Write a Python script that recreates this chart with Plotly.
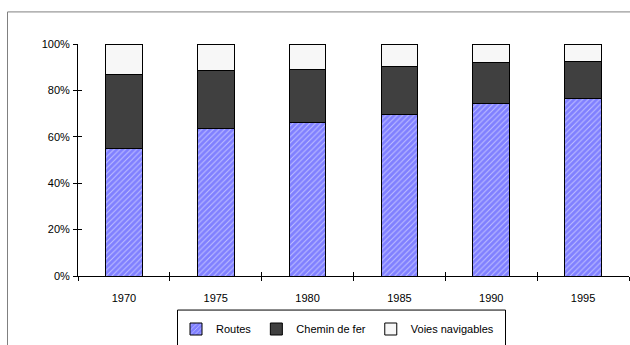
import plotly.graph_objects as go

# Répartition modale du transport de marchandises (parts en %)
annees = ["1970", "1975", "1980", "1985", "1990", "1995"]
routes = [55, 63.5, 66, 69.5, 74.5, 76.5]
chemin_de_fer = [32, 25, 23, 21, 17.5, 16]
voies_navigables = [13, 11.5, 11, 9.5, 8, 7.5]

W, H = 630, 345
L, R, T, B = 78, 1, 44, 66
pw, ph = W - L - R, H - T - B


def px_x(x):
    return (x - L) / pw


def px_y(y):
    return (H - B - y) / ph


font = dict(family="Liberation Sans, Arial, sans-serif", size=11, color="black")
line = dict(color="black", width=1)

fig = go.Figure()
fig.add_bar(
    x=annees, y=[v / 100 for v in routes], name="Routes",
    marker=dict(color="#8080ff", line=line,
                pattern=dict(shape="/", fgcolor="white", bgcolor="#8080ff",
                             size=4, solidity=0.25)),
)
fig.add_bar(
    x=annees, y=[v / 100 for v in chemin_de_fer], name="Chemin de fer",
    marker=dict(color="#404040", line=line),
)
fig.add_bar(
    x=annees, y=[v / 100 for v in voies_navigables], name="Voies navigables",
    marker=dict(color="#f7f7f7", line=line),
)

fig.update_layout(
    width=W, height=H,
    margin=dict(l=L, r=R, t=T, b=B),
    barmode="stack", bargap=0.6,
    paper_bgcolor="white", plot_bgcolor="white",
    font=font,
    showlegend=True,
    legend=dict(orientation="h", x=px_x(176), xanchor="left",
                y=px_y(318), yanchor="top", font=font,
                bgcolor="rgba(0,0,0,0)", traceorder="normal"),
    xaxis=dict(type="category", categoryarray=annees, range=[-0.5, 5.5],
               showline=True, linecolor="black", linewidth=1,
               ticks="outside", ticklen=4, tickcolor="black", tickson="boundaries",
               ticklabelstandoff=12, showgrid=False, zeroline=False, fixedrange=True),
    yaxis=dict(range=[0, 1], tickvals=[0, 0.2, 0.4, 0.6, 0.8, 1.0],
               tickformat=".0%", showline=True, linecolor="black", linewidth=1,
               ticks="outside", ticklen=4, tickcolor="black", ticklabelstandoff=1,
               showgrid=False, zeroline=False, fixedrange=True),
    xaxis2=dict(type="category", categoryarray=annees, range=[-0.5, 5.5],
                overlaying="x", ticks="inside", ticklen=4, tickcolor="black",
                tickson="boundaries", showticklabels=False, showline=False,
                linecolor="black", showgrid=False, zeroline=False),
    yaxis2=dict(range=[0, 1], tickvals=[0, 0.2, 0.4, 0.6, 0.8, 1.0],
                overlaying="y", ticks="inside", ticklen=4, tickcolor="black",
                showticklabels=False, showline=False, linecolor="black",
                showgrid=False, zeroline=False),
    shapes=[
        # cadre extérieur de la zone du graphique
        dict(type="line", xref="paper", yref="paper",
             x0=px_x(7.5), x1=px_x(640), y0=px_y(11.5), y1=px_y(11.5),
             line=dict(color="#808080", width=1)),
        dict(type="line", xref="paper", yref="paper",
             x0=px_x(7.5), x1=px_x(7.5), y0=px_y(11.5), y1=px_y(360),
             line=dict(color="#808080", width=1)),
        # cadre de la légende
        dict(type="rect", xref="paper", yref="paper",
             x0=px_x(177.5), x1=px_x(505.5), y0=px_y(313.5), y1=px_y(360),
             line=dict(color="black", width=1), fillcolor="rgba(0,0,0,0)"),
    ],
)

# trace invisible pour activer les axes secondaires (graduations croisées)
fig.add_bar(x=annees, y=[0] * len(annees), xaxis="x2", yaxis="y2",
            showlegend=False, hoverinfo="skip",
            marker=dict(color="rgba(0,0,0,0)", line=dict(width=0)))

fig.write_html("out.html")
